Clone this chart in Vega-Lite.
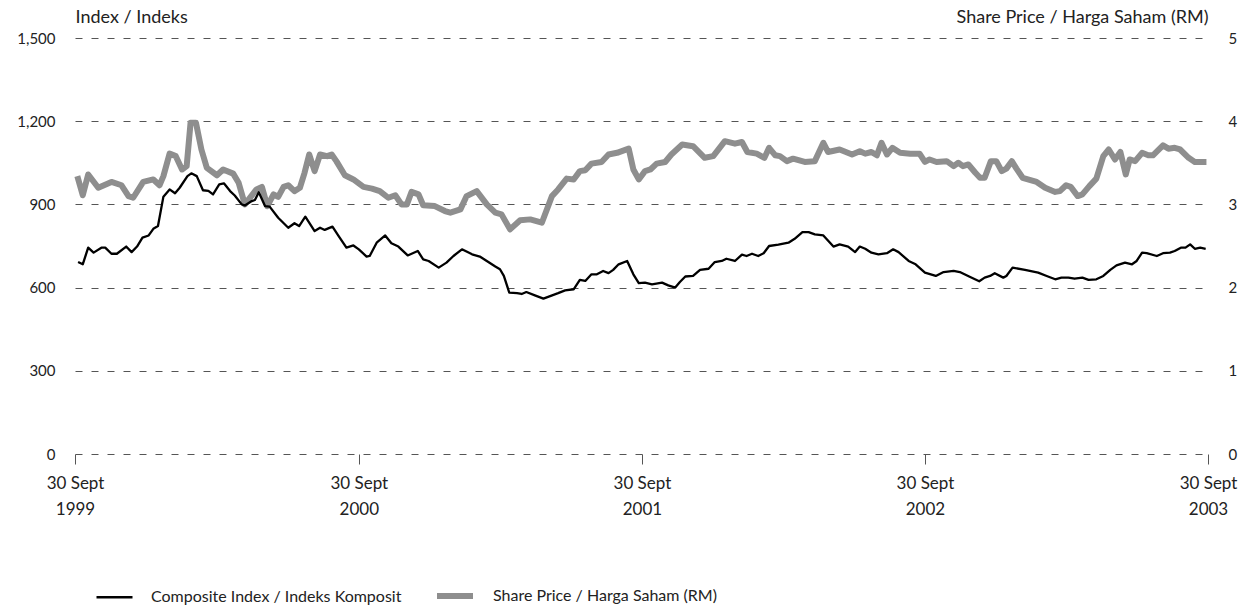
{
"$schema": "https://vega.github.io/schema/vega-lite/v6.json",
"width": 1133, "height": 416,
"autosize": {"type": "none"},
"padding": {"left": 75, "top": 38, "right": 42, "bottom": 158},
"background": "white",
"config": {"font": "Lato", "view": {"stroke": null}, "axis": {"labelColor": "#222", "titleColor": "#222", "titleFontWeight": "normal", "titleFontSize": 18, "labelFontSize": 15}},
"data": {"values": [
{"date":"1999-10-04","series":"Index","value":692},{"date":"1999-10-10","series":"Index","value":684},{"date":"1999-10-17","series":"Index","value":744},{"date":"1999-10-24","series":"Index","value":726},{"date":"1999-11-03","series":"Index","value":744},{"date":"1999-11-08","series":"Index","value":744},{"date":"1999-11-16","series":"Index","value":722},{"date":"1999-11-23","series":"Index","value":722},{"date":"1999-12-05","series":"Index","value":748},{"date":"1999-12-12","series":"Index","value":728},{"date":"1999-12-19","series":"Index","value":748},{"date":"1999-12-26","series":"Index","value":780},
{"date":"2000-01-03","series":"Index","value":788},{"date":"2000-01-09","series":"Index","value":812},{"date":"2000-01-15","series":"Index","value":822},{"date":"2000-01-22","series":"Index","value":928},{"date":"2000-01-30","series":"Index","value":954},{"date":"2000-02-06","series":"Index","value":940},{"date":"2000-02-12","series":"Index","value":960},{"date":"2000-02-22","series":"Index","value":1002},{"date":"2000-02-27","series":"Index","value":1012},{"date":"2000-03-05","series":"Index","value":1002},{"date":"2000-03-13","series":"Index","value":951},{"date":"2000-03-20","series":"Index","value":949},{"date":"2000-03-26","series":"Index","value":936},{"date":"2000-04-03","series":"Index","value":972},{"date":"2000-04-09","series":"Index","value":976},{"date":"2000-04-17","series":"Index","value":948},{"date":"2000-04-23","series":"Index","value":932},{"date":"2000-05-02","series":"Index","value":900},{"date":"2000-05-06","series":"Index","value":896},{"date":"2000-05-15","series":"Index","value":912},{"date":"2000-05-19","series":"Index","value":916},{"date":"2000-05-24","series":"Index","value":944},{"date":"2000-06-01","series":"Index","value":894},{"date":"2000-06-07","series":"Index","value":892},{"date":"2000-06-18","series":"Index","value":852},{"date":"2000-07-01","series":"Index","value":816},{"date":"2000-07-09","series":"Index","value":832},{"date":"2000-07-15","series":"Index","value":822},{"date":"2000-07-23","series":"Index","value":856},{"date":"2000-08-04","series":"Index","value":804},{"date":"2000-08-11","series":"Index","value":816},{"date":"2000-08-17","series":"Index","value":808},{"date":"2000-08-27","series":"Index","value":820},{"date":"2000-09-04","series":"Index","value":786},{"date":"2000-09-14","series":"Index","value":744},{"date":"2000-09-23","series":"Index","value":752},{"date":"2000-09-30","series":"Index","value":738},{"date":"2000-10-10","series":"Index","value":712},{"date":"2000-10-14","series":"Index","value":714},{"date":"2000-10-23","series":"Index","value":762},{"date":"2000-11-03","series":"Index","value":788},{"date":"2000-11-11","series":"Index","value":760},{"date":"2000-11-20","series":"Index","value":748},{"date":"2000-12-02","series":"Index","value":716},{"date":"2000-12-15","series":"Index","value":732},{"date":"2000-12-22","series":"Index","value":702},{"date":"2000-12-29","series":"Index","value":696},
{"date":"2001-01-11","series":"Index","value":672},{"date":"2001-01-21","series":"Index","value":690},{"date":"2001-01-30","series":"Index","value":714},{"date":"2001-02-10","series":"Index","value":738},{"date":"2001-02-23","series":"Index","value":720},{"date":"2001-03-05","series":"Index","value":712},{"date":"2001-03-16","series":"Index","value":692},{"date":"2001-03-25","series":"Index","value":676},{"date":"2001-03-31","series":"Index","value":666},{"date":"2001-04-05","series":"Index","value":642},{"date":"2001-04-12","series":"Index","value":582},{"date":"2001-04-22","series":"Index","value":580},{"date":"2001-04-28","series":"Index","value":577},{"date":"2001-05-04","series":"Index","value":584},{"date":"2001-05-15","series":"Index","value":572},{"date":"2001-05-26","series":"Index","value":560},{"date":"2001-06-08","series":"Index","value":574},{"date":"2001-06-14","series":"Index","value":580},{"date":"2001-06-23","series":"Index","value":590},{"date":"2001-07-04","series":"Index","value":594},{"date":"2001-07-12","series":"Index","value":628},{"date":"2001-07-19","series":"Index","value":624},{"date":"2001-07-27","series":"Index","value":648},{"date":"2001-08-03","series":"Index","value":648},{"date":"2001-08-11","series":"Index","value":660},{"date":"2001-08-18","series":"Index","value":652},{"date":"2001-08-24","series":"Index","value":664},{"date":"2001-08-31","series":"Index","value":684},{"date":"2001-09-11","series":"Index","value":696},{"date":"2001-09-19","series":"Index","value":648},{"date":"2001-09-26","series":"Index","value":616},{"date":"2001-10-04","series":"Index","value":618},{"date":"2001-10-13","series":"Index","value":612},{"date":"2001-10-26","series":"Index","value":618},{"date":"2001-11-03","series":"Index","value":608},{"date":"2001-11-12","series":"Index","value":600},{"date":"2001-11-18","series":"Index","value":620},{"date":"2001-11-25","series":"Index","value":640},{"date":"2001-12-05","series":"Index","value":642},{"date":"2001-12-14","series":"Index","value":664},{"date":"2001-12-25","series":"Index","value":668},
{"date":"2002-01-02","series":"Index","value":692},{"date":"2002-01-11","series":"Index","value":696},{"date":"2002-01-17","series":"Index","value":704},{"date":"2002-01-28","series":"Index","value":696},{"date":"2002-02-06","series":"Index","value":719},{"date":"2002-02-12","series":"Index","value":714},{"date":"2002-02-19","series":"Index","value":722},{"date":"2002-02-27","series":"Index","value":714},{"date":"2002-03-06","series":"Index","value":724},{"date":"2002-03-13","series":"Index","value":750},{"date":"2002-03-25","series":"Index","value":755},{"date":"2002-04-07","series":"Index","value":762},{"date":"2002-04-15","series":"Index","value":776},{"date":"2002-04-25","series":"Index","value":800},{"date":"2002-05-03","series":"Index","value":800},{"date":"2002-05-11","series":"Index","value":792},{"date":"2002-05-22","series":"Index","value":788},{"date":"2002-06-04","series":"Index","value":748},{"date":"2002-06-12","series":"Index","value":756},{"date":"2002-06-23","series":"Index","value":748},{"date":"2002-07-02","series":"Index","value":728},{"date":"2002-07-08","series":"Index","value":748},{"date":"2002-07-15","series":"Index","value":740},{"date":"2002-07-23","series":"Index","value":726},{"date":"2002-08-01","series":"Index","value":720},{"date":"2002-08-12","series":"Index","value":724},{"date":"2002-08-20","series":"Index","value":738},{"date":"2002-08-27","series":"Index","value":728},{"date":"2002-09-09","series":"Index","value":696},{"date":"2002-09-18","series":"Index","value":684},{"date":"2002-09-30","series":"Index","value":654},{"date":"2002-10-14","series":"Index","value":642},{"date":"2002-10-24","series":"Index","value":656},{"date":"2002-11-06","series":"Index","value":660},{"date":"2002-11-14","series":"Index","value":656},{"date":"2002-11-26","series":"Index","value":640},{"date":"2002-12-09","series":"Index","value":623},{"date":"2002-12-16","series":"Index","value":636},{"date":"2002-12-23","series":"Index","value":642},{"date":"2002-12-29","series":"Index","value":652},
{"date":"2003-01-09","series":"Index","value":636},{"date":"2003-01-13","series":"Index","value":642},{"date":"2003-01-21","series":"Index","value":672},{"date":"2003-02-06","series":"Index","value":664},{"date":"2003-02-23","series":"Index","value":654},{"date":"2003-03-06","series":"Index","value":642},{"date":"2003-03-17","series":"Index","value":630},{"date":"2003-03-25","series":"Index","value":636},{"date":"2003-04-03","series":"Index","value":636},{"date":"2003-04-11","series":"Index","value":632},{"date":"2003-04-21","series":"Index","value":636},{"date":"2003-04-29","series":"Index","value":628},{"date":"2003-05-09","series":"Index","value":630},{"date":"2003-05-18","series":"Index","value":642},{"date":"2003-05-27","series":"Index","value":664},{"date":"2003-06-04","series":"Index","value":680},{"date":"2003-06-15","series":"Index","value":690},{"date":"2003-06-24","series":"Index","value":684},{"date":"2003-06-30","series":"Index","value":696},{"date":"2003-07-07","series":"Index","value":726},{"date":"2003-07-13","series":"Index","value":724},{"date":"2003-07-26","series":"Index","value":714},{"date":"2003-08-03","series":"Index","value":724},{"date":"2003-08-12","series":"Index","value":726},{"date":"2003-08-18","series":"Index","value":732},{"date":"2003-08-26","series":"Index","value":744},{"date":"2003-09-01","series":"Index","value":744},{"date":"2003-09-07","series":"Index","value":756},{"date":"2003-09-13","series":"Index","value":740},{"date":"2003-09-20","series":"Index","value":744},{"date":"2003-09-27","series":"Index","value":740},
{"date":"1999-10-03","series":"Price","value":3.34},{"date":"1999-10-10","series":"Price","value":3.11},{"date":"1999-10-17","series":"Price","value":3.36},{"date":"1999-10-30","series":"Price","value":3.20},{"date":"1999-11-16","series":"Price","value":3.27},{"date":"1999-11-29","series":"Price","value":3.23},{"date":"1999-12-08","series":"Price","value":3.10},{"date":"1999-12-14","series":"Price","value":3.08},{"date":"1999-12-27","series":"Price","value":3.27},
{"date":"2000-01-09","series":"Price","value":3.30},{"date":"2000-01-17","series":"Price","value":3.23},{"date":"2000-01-22","series":"Price","value":3.34},{"date":"2000-01-30","series":"Price","value":3.61},{"date":"2000-02-07","series":"Price","value":3.58},{"date":"2000-02-15","series":"Price","value":3.42},{"date":"2000-02-21","series":"Price","value":3.46},{"date":"2000-02-26","series":"Price","value":3.98},{"date":"2000-03-04","series":"Price","value":3.98},{"date":"2000-03-11","series":"Price","value":3.66},{"date":"2000-03-18","series":"Price","value":3.44},{"date":"2000-03-31","series":"Price","value":3.35},{"date":"2000-04-08","series":"Price","value":3.42},{"date":"2000-04-21","series":"Price","value":3.37},{"date":"2000-04-28","series":"Price","value":3.26},{"date":"2000-05-06","series":"Price","value":3.00},{"date":"2000-05-21","series":"Price","value":3.18},{"date":"2000-05-28","series":"Price","value":3.21},{"date":"2000-06-04","series":"Price","value":2.98},{"date":"2000-06-12","series":"Price","value":3.12},{"date":"2000-06-18","series":"Price","value":3.09},{"date":"2000-06-25","series":"Price","value":3.21},{"date":"2000-07-01","series":"Price","value":3.23},{"date":"2000-07-09","series":"Price","value":3.16},{"date":"2000-07-16","series":"Price","value":3.20},{"date":"2000-07-22","series":"Price","value":3.38},{"date":"2000-07-28","series":"Price","value":3.60},{"date":"2000-08-04","series":"Price","value":3.40},{"date":"2000-08-11","series":"Price","value":3.60},{"date":"2000-08-20","series":"Price","value":3.58},{"date":"2000-08-26","series":"Price","value":3.60},{"date":"2000-09-01","series":"Price","value":3.52},{"date":"2000-09-12","series":"Price","value":3.35},{"date":"2000-09-23","series":"Price","value":3.30},{"date":"2000-10-06","series":"Price","value":3.21},{"date":"2000-10-17","series":"Price","value":3.19},{"date":"2000-10-27","series":"Price","value":3.16},{"date":"2000-11-07","series":"Price","value":3.08},{"date":"2000-11-16","series":"Price","value":3.11},{"date":"2000-11-24","series":"Price","value":3.00},{"date":"2000-12-01","series":"Price","value":3.00},{"date":"2000-12-07","series":"Price","value":3.15},{"date":"2000-12-16","series":"Price","value":3.12},{"date":"2000-12-22","series":"Price","value":2.99},
{"date":"2001-01-06","series":"Price","value":2.98},{"date":"2001-01-19","series":"Price","value":2.92},{"date":"2001-01-26","series":"Price","value":2.90},{"date":"2001-02-08","series":"Price","value":2.94},{"date":"2001-02-16","series":"Price","value":3.10},{"date":"2001-03-01","series":"Price","value":3.16},{"date":"2001-03-14","series":"Price","value":3.00},{"date":"2001-03-25","series":"Price","value":2.90},{"date":"2001-04-02","series":"Price","value":2.88},{"date":"2001-04-13","series":"Price","value":2.70},{"date":"2001-04-26","series":"Price","value":2.81},{"date":"2001-05-09","series":"Price","value":2.82},{"date":"2001-05-24","series":"Price","value":2.78},{"date":"2001-06-06","series":"Price","value":3.10},{"date":"2001-06-14","series":"Price","value":3.18},{"date":"2001-06-25","series":"Price","value":3.31},{"date":"2001-07-04","series":"Price","value":3.30},{"date":"2001-07-12","series":"Price","value":3.40},{"date":"2001-07-19","series":"Price","value":3.41},{"date":"2001-07-27","series":"Price","value":3.49},{"date":"2001-08-09","series":"Price","value":3.51},{"date":"2001-08-18","series":"Price","value":3.60},{"date":"2001-08-29","series":"Price","value":3.62},{"date":"2001-09-13","series":"Price","value":3.67},{"date":"2001-09-19","series":"Price","value":3.42},{"date":"2001-09-26","series":"Price","value":3.30},{"date":"2001-10-04","series":"Price","value":3.40},{"date":"2001-10-11","series":"Price","value":3.42},{"date":"2001-10-19","series":"Price","value":3.49},{"date":"2001-10-30","series":"Price","value":3.51},{"date":"2001-11-07","series":"Price","value":3.60},{"date":"2001-11-21","series":"Price","value":3.72},{"date":"2001-12-05","series":"Price","value":3.70},{"date":"2001-12-20","series":"Price","value":3.56},{"date":"2001-12-31","series":"Price","value":3.58},
{"date":"2002-01-15","series":"Price","value":3.76},{"date":"2002-01-28","series":"Price","value":3.73},{"date":"2002-02-06","series":"Price","value":3.75},{"date":"2002-02-13","series":"Price","value":3.63},{"date":"2002-02-25","series":"Price","value":3.61},{"date":"2002-03-07","series":"Price","value":3.56},{"date":"2002-03-13","series":"Price","value":3.68},{"date":"2002-03-21","series":"Price","value":3.59},{"date":"2002-03-27","series":"Price","value":3.58},{"date":"2002-04-05","series":"Price","value":3.52},{"date":"2002-04-13","series":"Price","value":3.55},{"date":"2002-04-28","series":"Price","value":3.51},{"date":"2002-05-11","series":"Price","value":3.52},{"date":"2002-05-22","series":"Price","value":3.74},{"date":"2002-05-28","series":"Price","value":3.63},{"date":"2002-06-12","series":"Price","value":3.66},{"date":"2002-06-28","series":"Price","value":3.60},{"date":"2002-07-08","series":"Price","value":3.64},{"date":"2002-07-15","series":"Price","value":3.61},{"date":"2002-07-23","series":"Price","value":3.63},{"date":"2002-07-30","series":"Price","value":3.59},{"date":"2002-08-05","series":"Price","value":3.74},{"date":"2002-08-12","series":"Price","value":3.60},{"date":"2002-08-19","series":"Price","value":3.68},{"date":"2002-08-29","series":"Price","value":3.62},{"date":"2002-09-11","series":"Price","value":3.61},{"date":"2002-09-23","series":"Price","value":3.61},{"date":"2002-09-30","series":"Price","value":3.51},{"date":"2002-10-06","series":"Price","value":3.54},{"date":"2002-10-15","series":"Price","value":3.51},{"date":"2002-10-28","series":"Price","value":3.52},{"date":"2002-11-06","series":"Price","value":3.46},{"date":"2002-11-12","series":"Price","value":3.50},{"date":"2002-11-18","series":"Price","value":3.46},{"date":"2002-11-25","series":"Price","value":3.48},{"date":"2002-12-04","series":"Price","value":3.38},{"date":"2002-12-10","series":"Price","value":3.32},{"date":"2002-12-16","series":"Price","value":3.32},{"date":"2002-12-24","series":"Price","value":3.52},{"date":"2002-12-31","series":"Price","value":3.52},
{"date":"2003-01-07","series":"Price","value":3.40},{"date":"2003-01-13","series":"Price","value":3.43},{"date":"2003-01-20","series":"Price","value":3.52},{"date":"2003-01-26","series":"Price","value":3.43},{"date":"2003-02-03","series":"Price","value":3.32},{"date":"2003-02-21","series":"Price","value":3.27},{"date":"2003-03-04","series":"Price","value":3.20},{"date":"2003-03-17","series":"Price","value":3.15},{"date":"2003-03-23","series":"Price","value":3.16},{"date":"2003-03-31","series":"Price","value":3.23},{"date":"2003-04-06","series":"Price","value":3.21},{"date":"2003-04-15","series":"Price","value":3.10},{"date":"2003-04-21","series":"Price","value":3.12},{"date":"2003-04-30","series":"Price","value":3.22},{"date":"2003-05-09","series":"Price","value":3.31},{"date":"2003-05-18","series":"Price","value":3.58},{"date":"2003-05-25","series":"Price","value":3.66},{"date":"2003-06-02","series":"Price","value":3.54},{"date":"2003-06-09","series":"Price","value":3.63},{"date":"2003-06-16","series":"Price","value":3.36},{"date":"2003-06-21","series":"Price","value":3.54},{"date":"2003-06-28","series":"Price","value":3.52},{"date":"2003-07-07","series":"Price","value":3.62},{"date":"2003-07-15","series":"Price","value":3.59},{"date":"2003-07-21","series":"Price","value":3.59},{"date":"2003-08-03","series":"Price","value":3.71},{"date":"2003-08-10","series":"Price","value":3.67},{"date":"2003-08-18","series":"Price","value":3.68},{"date":"2003-08-25","series":"Price","value":3.66},{"date":"2003-09-05","series":"Price","value":3.56},{"date":"2003-09-13","series":"Price","value":3.51},{"date":"2003-09-28","series":"Price","value":3.51}
]},
"encoding": {
  "x": {"field": "date", "type": "temporal",
    "scale": {"type": "utc", "domain": [{"year": 1999, "month": 9, "date": 30, "utc": true}, {"year": 2003, "month": 9, "date": 30, "utc": true}]},
    "axis": {"title": null, "values": [{"year": 1999, "month": 9, "date": 30, "utc": true}, {"year": 2000, "month": 9, "date": 30, "utc": true}, {"year": 2001, "month": 9, "date": 30, "utc": true}, {"year": 2002, "month": 9, "date": 30, "utc": true}, {"year": 2003, "month": 9, "date": 30, "utc": true}],
      "labelExpr": "['30 Sept', utcFormat(datum.value, '%Y')]", "labelFontSize": 17, "labelLineHeight": 26, "labelBaseline": "top", "labelPadding": 11,
      "domain": false, "grid": false, "ticks": true, "tickSize": 10, "tickColor": "#555", "tickWidth": 1, "labelFlush": false, "labelOverlap": false, "labelBound": false}}
},
"layer": [
  {
    "transform": [{"filter": "datum.series == 'Price'"}],
    "mark": {"type": "line", "strokeJoin": "round", "strokeCap": "butt"},
    "encoding": {
      "y": {"field": "value", "type": "quantitative", "scale": {"domain": [0, 5], "nice": false, "zero": true},
        "axis": {"orient": "right", "values": [0, 1, 2, 3, 4, 5], "grid": false, "domain": false, "ticks": false, "labelPadding": 20,
          "title": "Share Price / Harga Saham (RM)", "titleAngle": 0, "titleAlign": "right", "titleBaseline": "alphabetic", "titleX": 0, "titleY": -16}},
      "color": {"field": "series", "type": "nominal", "scale": {"domain": ["Index", "Price"], "range": ["#000000", "#8e8e8e"]},
        "legend": {"orient": "none", "legendX": 20, "legendY": 537, "direction": "horizontal", "title": null, "symbolType": "stroke", "symbolSize": 1296, "labelFontSize": 16, "labelColor": "#222", "labelOffset": 17, "columnPadding": 23, "labelLimit": 400,
          "labelExpr": "datum.label == 'Index' ? 'Composite Index / Indeks Komposit' : 'Share Price / Harga Saham (RM)'"}},
      "strokeWidth": {"field": "series", "type": "nominal", "scale": {"domain": ["Index", "Price"], "range": [2.3, 6]},
        "legend": {"orient": "none", "legendX": 20, "legendY": 537, "direction": "horizontal", "title": null, "symbolType": "stroke", "symbolSize": 1296, "labelFontSize": 16, "labelColor": "#222", "labelOffset": 17, "columnPadding": 23, "labelLimit": 400,
          "labelExpr": "datum.label == 'Index' ? 'Composite Index / Indeks Komposit' : 'Share Price / Harga Saham (RM)'"}}
    }
  },
  {
    "transform": [{"filter": "datum.series == 'Index'"}],
    "mark": {"type": "line", "strokeJoin": "round"},
    "encoding": {
      "y": {"field": "value", "type": "quantitative", "scale": {"domain": [0, 1500], "nice": false},
        "axis": {"orient": "left", "values": [0, 300, 600, 900, 1200, 1500], "labelExpr": "format(datum.value, ',d')", "grid": true, "gridDash": [7, 9], "gridColor": "#555", "gridWidth": 1, "domain": false, "ticks": false, "labelPadding": 20,
          "title": "Index / Indeks", "titleAngle": 0, "titleAlign": "left", "titleBaseline": "alphabetic", "titleX": 0, "titleY": -16}},
      "color": {"field": "series", "type": "nominal", "scale": {"domain": ["Index", "Price"], "range": ["#000000", "#8e8e8e"]},
        "legend": {"orient": "none", "legendX": 20, "legendY": 537, "direction": "horizontal", "title": null, "symbolType": "stroke", "symbolSize": 1296, "labelFontSize": 16, "labelColor": "#222", "labelOffset": 17, "columnPadding": 23, "labelLimit": 400,
          "labelExpr": "datum.label == 'Index' ? 'Composite Index / Indeks Komposit' : 'Share Price / Harga Saham (RM)'"}},
      "strokeWidth": {"field": "series", "type": "nominal", "scale": {"domain": ["Index", "Price"], "range": [2.3, 6]},
        "legend": {"orient": "none", "legendX": 20, "legendY": 537, "direction": "horizontal", "title": null, "symbolType": "stroke", "symbolSize": 1296, "labelFontSize": 16, "labelColor": "#222", "labelOffset": 17, "columnPadding": 23, "labelLimit": 400,
          "labelExpr": "datum.label == 'Index' ? 'Composite Index / Indeks Komposit' : 'Share Price / Harga Saham (RM)'"}}
    }
  }
],
"resolve": {"scale": {"y": "independent"}, "axis": {"y": "independent"}}
}
